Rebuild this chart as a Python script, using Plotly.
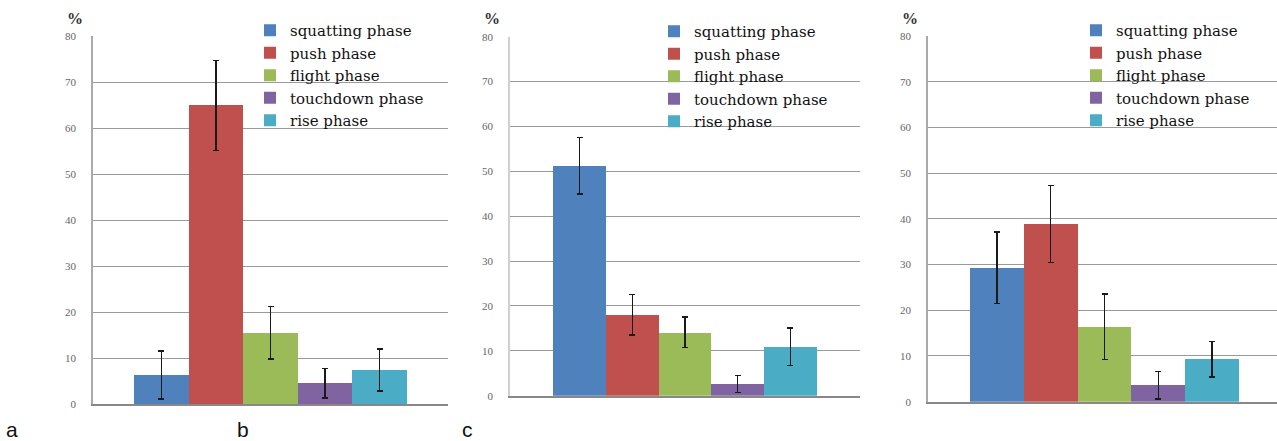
import plotly.graph_objects as go

W, H = 1277, 441

phases = ["squatting phase", "push phase", "flight phase", "touchdown phase", "rise phase"]
colors = ["#4F81BD", "#C0504D", "#9BBB59", "#8064A2", "#4BACC6"]

a_values = [6.3, 64.9, 15.5, 4.5, 7.4]
a_err = [5.2, 9.8, 5.7, 3.2, 4.6]
c_values = [51.2, 18.0, 14.1, 2.6, 10.9]
c_err = [6.3, 4.5, 3.4, 1.9, 4.2]
d_values = [29.3, 38.9, 16.4, 3.6, 9.3]
d_err = [7.8, 8.4, 7.2, 3.0, 3.9]

y_ticks = [0, 10, 20, 30, 40, 50, 60, 70, 80]
panel_labels = ["a", "b", "c"]

panels = [
    # (values, errors, x-domain px, y0 px, y80 px, x-range, legend name, legend x px, legend y px, axis line color)
    (a_values, a_err, (93, 448), 404, 36, (-0.650, 0.650), "legend", 250, 14, "#aaaaaa"),
    (c_values, c_err, (510, 860), 395.7, 36.7, (-0.665, 0.665), "legend2", 654, 15, "#d0d0d0"),
    (d_values, d_err, (928, 1277), 401.7, 36, (-0.656, 0.641), "legend3", 1076, 14, "#aaaaaa"),
]

fig = go.Figure()
layout = dict(
    width=W, height=H,
    margin=dict(l=0, r=0, t=0, b=0, autoexpand=False),
    paper_bgcolor="white", plot_bgcolor="white",
    barmode="group", bargap=0, bargroupgap=0,
    annotations=[],
)

for i, (vals, errs, xd, y0, y80, xr, leg, lx, ly, alc) in enumerate(panels):
    sfx = "" if i == 0 else str(i + 1)
    for name, v, e, col in zip(phases, vals, errs, colors):
        fig.add_trace(go.Bar(
            x=[0], y=[v], name=name, marker=dict(color=col, line=dict(width=0)),
            error_y=dict(type="data", array=[e], visible=True, color="#1a1a1a", thickness=1.5, width=3),
            xaxis="x" + sfx, yaxis="y" + sfx, legend=leg,
        ))
    layout["xaxis" + sfx] = dict(
        domain=[xd[0] / W, xd[1] / W], range=list(xr), anchor="y" + sfx,
        showticklabels=False, showgrid=False, zeroline=False,
        showline=True, linecolor="#888888", linewidth=1.5, ticks="", fixedrange=True,
    )
    layout["yaxis" + sfx] = dict(
        domain=[(H - y0) / H, (H - y80) / H], range=[0, 80], anchor="x" + sfx,
        tickvals=y_ticks, showgrid=True, gridcolor="#9a9a9a", gridwidth=1,
        zeroline=False, showline=True, linecolor=alc, linewidth=1.5,
        tickfont=dict(family="Liberation Serif", size=11, color="#666666"),
        ticks="", ticklabelstandoff=13,
    )
    layout[leg] = dict(
        x=lx / W, y=(H - ly) / H, xanchor="left", yanchor="top",
        bgcolor="rgba(0,0,0,0)", borderwidth=0,
        font=dict(family="DejaVu Serif", size=15, color="#111111"),
        tracegroupgap=0, itemwidth=30,
    )
    layout["annotations"].append(dict(
        text="<b>%</b>", xref="paper", yref="paper", xanchor="center", yanchor="middle",
        x=(xd[0] - 18) / W, y=(H - 18) / H, showarrow=False,
        font=dict(family="Liberation Serif", size=16, color="#333333"),
    ))

for lab, px in zip(panel_labels, [12, 243, 468]):
    layout["annotations"].append(dict(
        text=lab, xref="paper", yref="paper", xanchor="center", yanchor="middle",
        x=px / W, y=(H - 429) / H,
        showarrow=False, font=dict(family="Liberation Sans", size=21, color="#111111"),
    ))

fig.update_layout(**layout)
fig.write_html(
    "out.html",
    config={"displayModeBar": False},
    post_script="document.body.style.margin='0px';document.body.style.overflow='hidden';",
)
